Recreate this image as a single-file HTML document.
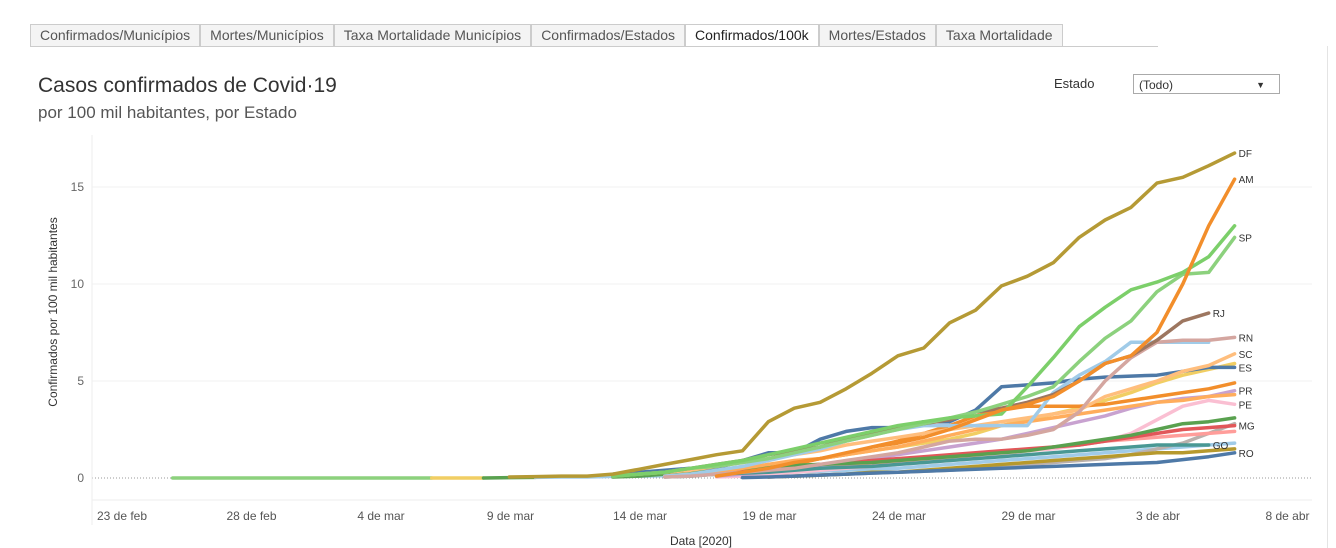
<!DOCTYPE html>
<html><head><meta charset="utf-8">
<style>
body{margin:0;width:1336px;height:548px;background:#fff;font-family:"Liberation Sans",sans-serif;overflow:hidden;position:relative}
.tabs{position:absolute;left:30px;top:24px;height:22px;display:flex;border-bottom:1px solid #ccc;width:1128px}
.tab{font-size:14px;color:#555;padding:2px 9px;border:1px solid #ccc;border-bottom:none;background:#f4f4f4;line-height:17px;white-space:nowrap}
.tab.on{background:#fff;color:#222}
</style></head><body>
<div class="tabs">
<div class="tab">Confirmados/Municípios</div>
<div class="tab">Mortes/Municípios</div>
<div class="tab">Taxa Mortalidade Municípios</div>
<div class="tab">Confirmados/Estados</div>
<div class="tab on">Confirmados/100k</div>
<div class="tab">Mortes/Estados</div>
<div class="tab">Taxa Mortalidade</div>
</div>
<div style="position:absolute;left:1327px;top:46px;width:1px;height:502px;background:#e4e4e4"></div>
<div style="position:absolute;left:38px;top:74px;font-size:21px;color:#333">Casos confirmados de Covid·19</div>
<div style="position:absolute;left:38px;top:103px;font-size:17px;color:#555">por 100 mil habitantes, por Estado</div>
<div style="position:absolute;left:1054px;top:76px;font-size:13px;color:#333">Estado</div>
<div style="position:absolute;left:1133px;top:74px;width:147px;height:20px;border:1px solid #aaa;font-size:12px;color:#333;line-height:21px;padding-left:5px;box-sizing:border-box">(Todo)<span style="position:absolute;right:14px;top:0;font-size:9px">▼</span></div>
<svg id="chart" width="1336" height="548" style="position:absolute;left:0;top:0"></svg>
<script>
const dayLabels=["23 de feb","28 de feb","4 de mar","9 de mar","14 de mar","19 de mar","24 de mar","29 de mar","3 de abr","8 de abr"];
const labelDays=[0,5,10,15,20,25,30,35,40,45];
const yTicks=[0,5,10,15];
const names=["GREEN0","YEL0","DG0","LB0","GREY","PINK","YEL","OR2","OLIVE","PE","PR","RO","GO","MG","DG","OR","ES","SC","LB","RN","RJ","SP","CE","AM","DF"];
const colors=["#8cd17d","#f1ce63","#59a14f","#a0cbe8","#bab0ac","#ff9d9a","#f1ce63","#f28e2b","#b6992d","#fabfd2","#c8a2d0","#4e79a7","#499894","#e15759","#59a14f","#ffad5c","#4e79a7","#ffbe7d","#a0cbe8","#d4a6a0","#9d7660","#8cd17d","#7ccf6a","#f28e2b","#b59a35"];
const labels=["","","","","","","","","","PE","PR","RO","GO","MG","","","ES","SC","","RN","RJ","SP","","AM","DF"];
const starts=[3,13,15,17,26,24,22,24,26,24,24,25,22,22,20,22,20,20,22,22,20,20,20,24,16];
const values=[
[0,0,0,0,0,0,0,0,0,0,0],
[0,0,0],
[0,0.02,0.03],
[0.03,0.05,0.05,0.08,0.1,0.12,0.15,0.18,0.2,0.25,0.3,0.35,0.4,0.45,0.5,0.6,0.7,0.8,0.9,1.0,1.1,1.2,1.3,1.4,1.5,1.6,1.7,1.8],
[0.05,0.1,0.15,0.2,0.25,0.3,0.35,0.4,0.5,0.6,0.7,0.8,0.9,1.0,1.2,1.5,1.8,2.3,2.8],
[0.1,0.2,0.3,0.4,0.5,0.6,0.7,0.8,0.9,1.0,1.1,1.3,1.4,1.6,1.7,1.9,2.0,2.1,2.2,2.3,2.4],
[0.1,0.2,0.3,0.4,0.6,0.8,1.0,1.2,1.4,1.6,1.8,2.0,2.3,2.7,3.0,3.3,3.6,4.0,4.4,4.9,5.3,5.6,5.9],
[0.1,0.3,0.5,0.7,1.0,1.2,1.6,1.9,2.3,2.7,3.2,3.5,3.7,3.7,3.7,3.8,4.0,4.2,4.4,4.6,4.9],
[0.05,0.1,0.15,0.2,0.3,0.3,0.4,0.5,0.6,0.7,0.8,0.9,1.0,1.1,1.2,1.3,1.3,1.4,1.5],
[0.05,0.1,0.2,0.3,0.4,0.5,0.6,0.7,0.8,0.9,1.0,1.2,1.4,1.5,1.7,1.9,2.3,3.0,3.7,4.0,3.8],
[0.1,0.2,0.3,0.5,0.6,0.8,1.0,1.2,1.4,1.6,1.8,2.0,2.3,2.6,2.9,3.2,3.6,3.9,4.1,4.2,4.5],
[0.02,0.05,0.1,0.15,0.2,0.25,0.3,0.35,0.4,0.45,0.5,0.55,0.6,0.65,0.7,0.75,0.8,0.95,1.1,1.3],
[0.05,0.1,0.2,0.25,0.3,0.4,0.5,0.55,0.6,0.7,0.8,0.9,1.0,1.1,1.2,1.3,1.4,1.5,1.6,1.7,1.7,1.7],
[0.1,0.2,0.3,0.4,0.5,0.6,0.7,0.8,0.9,1.0,1.1,1.2,1.3,1.4,1.5,1.6,1.7,1.9,2.1,2.3,2.5,2.6,2.7],
[0.05,0.1,0.2,0.3,0.4,0.5,0.6,0.65,0.7,0.75,0.8,0.9,1.0,1.1,1.2,1.3,1.4,1.6,1.8,2.0,2.2,2.5,2.8,2.9,3.1],
[0.1,0.2,0.3,0.5,0.7,0.9,1.0,1.2,1.4,1.6,1.9,2.2,2.5,2.7,2.9,3.1,3.3,3.5,3.7,3.9,4.0,4.2,4.3],
[0.2,0.3,0.4,0.5,0.5,0.9,1.3,1.3,2.0,2.4,2.6,2.6,2.9,2.9,3.5,4.7,4.8,4.9,5.1,5.2,5.25,5.3,5.5,5.7,5.7],
[0.1,0.2,0.3,0.4,0.6,0.8,1.0,1.2,1.4,1.7,1.9,2.1,2.3,2.5,2.7,2.9,3.1,3.3,3.5,4.2,4.6,5.0,5.5,5.8,6.4],
[0.1,0.2,0.4,0.6,0.9,1.2,1.5,1.9,2.2,2.5,2.7,2.7,2.7,2.7,2.7,4.4,5.3,6.0,7.0,7.0,7.0,7.0],
[0.05,0.1,0.2,0.3,0.4,0.5,0.7,0.9,1.1,1.3,1.6,1.9,2.0,2.0,2.2,2.5,3.4,5.0,6.2,7.0,7.1,7.1,7.25],
[0.1,0.2,0.3,0.5,0.7,0.9,1.2,1.4,1.6,2.0,2.3,2.6,2.8,3.0,3.4,3.6,3.9,4.3,5.0,5.9,6.3,7.1,8.1,8.5],
[0.1,0.2,0.3,0.5,0.6,0.8,1.0,1.3,1.6,1.9,2.2,2.5,2.8,3.1,3.4,3.8,4.2,4.7,6.0,7.2,8.1,9.6,10.5,10.6,12.4],
[0.1,0.2,0.3,0.5,0.7,0.9,1.2,1.5,1.8,2.1,2.4,2.7,2.9,3.1,3.2,3.3,4.7,6.2,7.8,8.8,9.7,10.1,10.6,11.4,13.0],
[0.1,0.3,0.5,0.8,1.0,1.3,1.6,1.8,2.1,2.5,3.0,3.5,3.8,4.2,5.0,5.9,6.3,7.5,10.0,13.0,15.4],
[0.05,0.07,0.1,0.1,0.2,0.45,0.7,0.95,1.2,1.4,2.9,3.6,3.9,4.6,5.4,6.3,6.7,8.0,8.65,9.9,10.4,11.1,12.4,13.3,13.95,15.2,15.5,16.1,16.75]
];
const svg=document.getElementById('chart');const NS='http://www.w3.org/2000/svg';
const X0=95,DX=25.9,Y0=478,DY=19.4;
function xs(d){return X0+DX*d}
function ys(v){return Y0-DY*v}
function mk(t,a){const e=document.createElementNS(NS,t);for(const k in a)e.setAttribute(k,a[k]);svg.appendChild(e);return e}
yTicks.forEach(t=>{
 if(t>0){const g=mk('line',{x1:92,x2:1312,y1:ys(t),y2:ys(t),stroke:'#f0f0f0'});
 
 }
 const tx=mk('text',{x:84,y:ys(t)+4,'text-anchor':'end','font-size':12,fill:'#666'});tx.textContent=t;
 
 
});
const z=mk('line',{x1:92,x2:1312,y1:Y0,y2:Y0,stroke:'#999','stroke-dasharray':'1,2'});


mk('line',{x1:92,x2:92,y1:135,y2:525,stroke:'#eee'});
mk('line',{x1:92,x2:1312,y1:500,y2:500,stroke:'#eee'});
labelDays.forEach((d,i)=>{
 const tx=mk('text',{x:xs(d)+27,y:520,'text-anchor':'middle','font-size':12,fill:'#555'});tx.textContent=dayLabels[i];
 
 
});
const xt=mk('text',{x:701,y:545,'text-anchor':'middle','font-size':12,fill:'#333'});xt.textContent='Data [2020]';


const yt=mk('text',{x:0,y:0,'text-anchor':'middle','font-size':12,fill:'#333',transform:'translate(57,312) rotate(-90)'});yt.textContent='Confirmados por 100 mil habitantes';


values.forEach((vals,i)=>{
 const pts=vals.map((v,j)=>xs(starts[i]+j).toFixed(1)+','+ys(v).toFixed(1)).join(' ');
 const p=mk('polyline',{points:pts,fill:'none',stroke:colors[i],'stroke-width':3.5,'stroke-linejoin':'round','stroke-linecap':'round'});
 
 
 if(labels[i]){
  const ld=starts[i]+vals.length-1;
  const t=mk('text',{x:xs(ld)+4,y:ys(vals[vals.length-1])+4,'font-size':10,fill:'#333'});t.textContent=labels[i];
  
  
 }
});
</script>
</body></html>
